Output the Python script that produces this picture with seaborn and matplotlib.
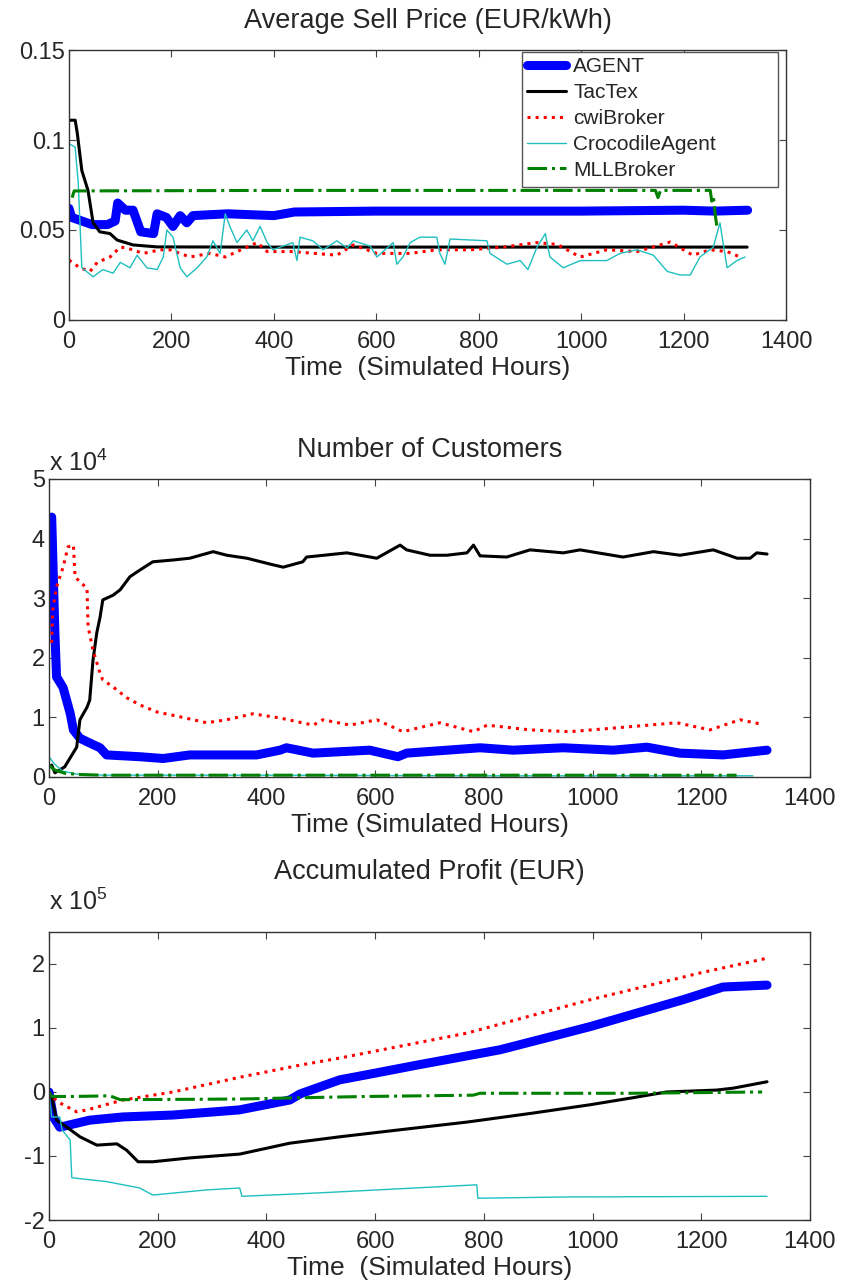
import numpy as np
import pandas as pd
import matplotlib
matplotlib.use("Agg")
import matplotlib.pyplot as plt
from matplotlib.patches import Rectangle
import seaborn as sns

# ---- Average Sell Price (EUR/kWh) ----
price_agent_h = [0, 5, 25, 45, 75, 90, 95, 110, 125, 135, 140, 165, 172, 190, 203, 217, 230, 242, 310, 400, 440, 600, 800, 1000, 1200, 1260, 1325]
price_agent = [0.062, 0.057, 0.055, 0.053, 0.053, 0.055, 0.065, 0.061, 0.061, 0.053, 0.049, 0.048, 0.059, 0.057, 0.052, 0.058, 0.054, 0.058, 0.059, 0.058, 0.060, 0.0605, 0.0605, 0.0605, 0.061, 0.0605, 0.061]

price_tactex_h = [0, 12, 16, 25, 37, 47, 60, 80, 94, 125, 172, 400, 800, 1200, 1324]
price_tactex = [0.111, 0.111, 0.104, 0.083, 0.072, 0.054, 0.049, 0.048, 0.0444, 0.0417, 0.0406, 0.0405, 0.0405, 0.0405, 0.0405]

price_cwi_h = [0, 21, 41, 55, 80, 100, 113, 145, 178, 197, 236, 275, 305, 367, 387, 437, 523, 555, 601, 666, 718, 783, 848, 913, 953, 998, 1050, 1109, 1174, 1218, 1252, 1285, 1310]
price_cwi = [0.0333, 0.029, 0.027, 0.032, 0.035, 0.0405, 0.040, 0.037, 0.039, 0.039, 0.035, 0.037, 0.035, 0.043, 0.038, 0.038, 0.036, 0.0417, 0.037, 0.037, 0.039, 0.039, 0.0405, 0.043, 0.042, 0.035, 0.039, 0.038, 0.0433, 0.036, 0.039, 0.038, 0.035]

price_croc_h = [0, 12, 18, 25, 47, 66, 86, 100, 119, 133, 152, 172, 184, 191, 203, 217, 230, 250, 269, 281, 295, 305, 314, 328, 347, 359, 373, 387, 398, 437, 445, 451, 476, 496, 523, 543, 555, 588, 601, 633, 640, 652, 666, 685, 718, 724, 734, 744, 816, 822, 855, 881, 896, 913, 930, 939, 965, 998, 1050, 1076, 1109, 1141, 1168, 1193, 1213, 1232, 1258, 1271, 1277, 1285, 1304, 1320]
price_croc = [0.098, 0.096, 0.076, 0.029, 0.024, 0.028, 0.026, 0.032, 0.029, 0.036, 0.029, 0.028, 0.035, 0.050, 0.046, 0.029, 0.024, 0.029, 0.035, 0.044, 0.037, 0.059, 0.052, 0.043, 0.050, 0.044, 0.052, 0.043, 0.039, 0.043, 0.033, 0.046, 0.044, 0.039, 0.044, 0.040, 0.044, 0.041, 0.035, 0.043, 0.031, 0.035, 0.043, 0.046, 0.046, 0.037, 0.031, 0.045, 0.044, 0.037, 0.031, 0.033, 0.028, 0.040, 0.048, 0.035, 0.029, 0.033, 0.033, 0.037, 0.039, 0.036, 0.027, 0.025, 0.025, 0.035, 0.0405, 0.054, 0.043, 0.029, 0.033, 0.035]

price_mll_h = [6, 10, 400, 800, 1145, 1150, 1155, 1252, 1255, 1258, 1262, 1265]
price_mll = [0.068, 0.0717, 0.072, 0.072, 0.072, 0.068, 0.072, 0.072, 0.066, 0.069, 0.058, 0.052]

# ---- Number of Customers (x 10^4) ----
cust_agent_h = [0, 5, 11, 14, 26, 39, 45, 57, 75, 94, 106, 167, 210, 259, 321, 382, 425, 437, 486, 590, 642, 658, 793, 854, 946, 1038, 1100, 1161, 1240, 1321]
cust_agent = [4.3, 4.36, 2.4, 1.68, 1.5, 1.07, 0.79, 0.65, 0.57, 0.49, 0.37, 0.34, 0.31, 0.37, 0.37, 0.37, 0.45, 0.49, 0.40, 0.45, 0.34, 0.40, 0.49, 0.45, 0.49, 0.45, 0.50, 0.40, 0.37, 0.45]

cust_tactex_h = [5, 11, 20, 29, 39, 51, 57, 70, 75, 81, 88, 94, 99, 118, 131, 149, 167, 191, 228, 259, 302, 327, 364, 412, 431, 467, 474, 548, 603, 646, 658, 701, 732, 769, 781, 793, 842, 885, 946, 977, 1056, 1112, 1161, 1222, 1266, 1290, 1302, 1321]
cust_tactex = [0.2, 0.07, 0.12, 0.17, 0.32, 0.5, 0.96, 1.17, 1.29, 1.96, 2.42, 2.68, 2.97, 3.05, 3.14, 3.36, 3.47, 3.61, 3.64, 3.67, 3.78, 3.72, 3.67, 3.56, 3.52, 3.61, 3.69, 3.76, 3.67, 3.89, 3.81, 3.72, 3.72, 3.76, 3.89, 3.71, 3.69, 3.81, 3.76, 3.81, 3.69, 3.78, 3.72, 3.81, 3.67, 3.67, 3.76, 3.74]

cust_cwi_h = [5, 7, 14, 26, 35, 45, 48, 57, 70, 72, 81, 94, 99, 118, 143, 167, 199, 241, 290, 327, 375, 425, 486, 504, 554, 603, 651, 719, 781, 806, 885, 958, 1038, 1155, 1216, 1271, 1308]
cust_cwi = [2.25, 2.8, 3.19, 3.52, 3.86, 3.89, 3.36, 3.27, 3.17, 2.52, 2.13, 1.74, 1.63, 1.51, 1.33, 1.21, 1.09, 1.01, 0.91, 0.96, 1.06, 0.99, 0.87, 0.96, 0.87, 0.96, 0.76, 0.91, 0.76, 0.87, 0.79, 0.76, 0.82, 0.91, 0.79, 0.96, 0.89]

cust_croc_h = [0, 10, 25, 50, 100, 400, 800, 1200, 1295]
cust_croc = [0.34, 0.22, 0.1, 0.05, 0.03, 0.03, 0.02, 0.02, 0.02]

cust_mll_h = [0, 10, 30, 60, 100, 400, 800, 1200, 1265]
cust_mll = [0.2, 0.12, 0.06, 0.04, 0.03, 0.03, 0.03, 0.03, 0.03]

# ---- Accumulated Profit (EUR, x 10^5) ----
prof_agent_h = [0, 8, 20, 35, 75, 136, 228, 350, 443, 462, 535, 585, 677, 830, 995, 1166, 1240, 1321]
prof_agent = [0, -0.39, -0.55, -0.52, -0.44, -0.39, -0.36, -0.28, -0.125, -0.03, 0.19, 0.27, 0.42, 0.66, 1.02, 1.44, 1.64, 1.67]

prof_tactex_h = [0, 5, 14, 33, 57, 88, 125, 143, 164, 191, 259, 351, 443, 535, 646, 769, 890, 995, 1074, 1136, 1228, 1259, 1321]
prof_tactex = [0, -0.07, -0.44, -0.55, -0.7, -0.83, -0.81, -0.91, -1.09, -1.09, -1.03, -0.97, -0.8, -0.7, -0.59, -0.47, -0.33, -0.2, -0.09, 0.0, 0.03, 0.06, 0.16]

prof_cwi_h = [0, 5, 20, 51, 70, 136, 228, 351, 462, 535, 769, 995, 1198, 1321]
prof_cwi = [0, -0.07, -0.17, -0.31, -0.28, -0.125, 0.0, 0.23, 0.42, 0.53, 0.92, 1.44, 1.86, 2.09]

prof_croc_h = [0, 5, 20, 24, 39, 42, 106, 167, 191, 228, 290, 351, 355, 462, 535, 787, 789, 952, 1321]
prof_croc = [0, -0.39, -0.39, -0.59, -0.75, -1.34, -1.4, -1.5, -1.61, -1.58, -1.53, -1.5, -1.63, -1.59, -1.56, -1.45, -1.66, -1.64, -1.63]

prof_mll_h = [0, 5, 45, 112, 131, 351, 462, 585, 780, 793, 1074, 1312]
prof_mll = [0, -0.07, -0.07, -0.06, -0.12, -0.11, -0.09, -0.07, -0.05, -0.02, -0.02, 0.0]

names = ["AGENT", "TacTex", "cwiBroker", "CrocodileAgent", "MLLBroker"]
colors = ["#0000ff", "#000000", "#ff0000", "#1fbfbf", "#008000"]
widths = [6.5, 2.2, 2.2, 1.0, 2.2]
styles = ["-", "-", ":", "-", "-."]

panels = [
    [(price_agent_h, price_agent), (price_tactex_h, price_tactex), (price_cwi_h, price_cwi),
     (price_croc_h, price_croc), (price_mll_h, price_mll)],
    [(cust_agent_h, cust_agent), (cust_tactex_h, cust_tactex), (cust_cwi_h, cust_cwi),
     (cust_croc_h, cust_croc), (cust_mll_h, cust_mll)],
    [(prof_agent_h, prof_agent), (prof_tactex_h, prof_tactex), (prof_cwi_h, prof_cwi),
     (prof_croc_h, prof_croc), (prof_mll_h, prof_mll)],
]

sns.set_theme(style="white")
plt.rcParams["font.family"] = ["Liberation Sans", "DejaVu Sans"]
plt.rcParams["mathtext.fontset"] = "custom"
plt.rcParams["mathtext.rm"] = "Liberation Sans"
plt.rcParams["mathtext.it"] = "Liberation Sans"

fig = plt.figure(figsize=(8.44, 12.83), dpi=100)
ax1 = fig.add_axes([0.0818, 0.7506, 0.8495, 0.2104])
ax2 = fig.add_axes([0.058, 0.3944, 0.9017, 0.2323])
ax3 = fig.add_axes([0.058, 0.0491, 0.9017, 0.2245])
axes = [ax1, ax2, ax3]

for ax, series in zip(axes, panels):
    for (h, v), name, c, lw, ls in zip(series, names, colors, widths, styles):
        df = pd.DataFrame({"hours": h, "value": v})
        sns.lineplot(data=df, x="hours", y="value", ax=ax, color=c, linewidth=lw,
                     linestyle=ls, label=name, sort=False, estimator=None)

titles = ["Average Sell Price (EUR/kWh)", "Number of Customers", "Accumulated Profit (EUR)"]
title_pads = [16, 16, 38]
xlabels = ["Time  (Simulated Hours)", "Time (Simulated Hours)", "Time  (Simulated Hours)"]
ylims = [(0, 0.15), (0, 5), (-2, 2.5)]
yticks = [[0, 0.05, 0.1, 0.15], [0, 1, 2, 3, 4, 5], [-2, -1, 0, 1, 2]]
yticklabels = [["0", "0.05", "0.1", "0.15"], ["0", "1", "2", "3", "4", "5"], ["-2", "-1", "0", "1", "2"]]

for i, ax in enumerate(axes):
    ax.set_xlim(0, 1400)
    ax.set_ylim(*ylims[i])
    ax.set_xticks(range(0, 1401, 200))
    ax.set_xticklabels([str(t) for t in range(0, 1401, 200)], fontsize=17)
    ax.set_yticks(yticks[i])
    ax.set_yticklabels(yticklabels[i], fontsize=17)
    ax.tick_params(direction="in", length=5, width=0.8, color="#444444",
                   top=True, right=True, bottom=True, left=True)
    ax.tick_params(axis="x", pad=8)
    ax.tick_params(axis="y", pad=3)
    for s in ax.spines.values():
        s.set_color("#333333")
        s.set_linewidth(1.0)
    ax.set_title(titles[i], fontsize=19.5, pad=title_pads[i])
    ax.set_xlabel(xlabels[i], fontsize=19, labelpad=2)
    ax.set_ylabel("")
    ax.get_legend().remove()

# legend box (drawn as a plain rectangle, wider than the entries as in the original)
ax1.add_patch(Rectangle((0.632, 0.4926), 0.357, 0.50, transform=ax1.transAxes,
                        facecolor="white", edgecolor="#555555", linewidth=1.0, zorder=5))
handles, labels = ax1.get_legend_handles_labels()
leg = ax1.legend(handles, labels, loc="upper left", bbox_to_anchor=(0.632, 0.9926),
                 prop={"family": "Liberation Sans", "size": 15}, frameon=False,
                 handlelength=1.85, handletextpad=0.35, labelspacing=0.33, borderpad=0.25,
                 borderaxespad=0.0)
leg.set_zorder(6)

ax2.text(0.0, 1.01, r"x 10$^{4}$", transform=ax2.transAxes, fontsize=18, ha="left", va="bottom")
ax3.text(0.0, 1.06, r"x 10$^{5}$", transform=ax3.transAxes, fontsize=18, ha="left", va="bottom")

fig.savefig("out.png", dpi=100, facecolor="white")
